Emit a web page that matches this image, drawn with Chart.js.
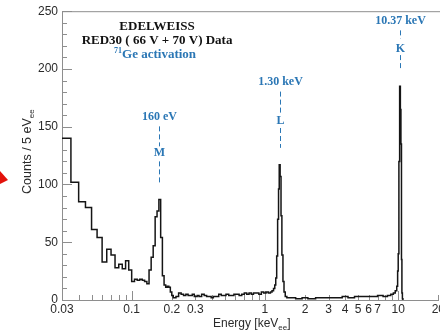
<!DOCTYPE html>
<html>
<head>
<meta charset="utf-8">
<script src="https://cdn.jsdelivr.net/npm/chart.js@4.4.1/dist/chart.umd.min.js"></script>
<style>
  html, body { margin: 0; padding: 0; background: #fff; overflow: hidden; }
  #wrap { width: 447px; height: 331px; }
</style>
</head>
<body>
<div id="wrap"><canvas id="spectrum"></canvas></div>
<script>
// 5 eV bins from 30 eV to 200 eV (lower edge = lowStart + i * lowWidth)
const lowStart = 0.030;
const lowWidth = 0.005;
const lowCounts = [140, 102, 85, 80, 61, 54, 33, 44, 39, 28, 31, 27, 34, 26,
                   16, 18, 17, 18, 17, 16, 14, 26, 37, 47, 72, 77, 87, 54,
                   21, 13, 11, 12, 11, 7];

// above 200 eV the bins are narrower than a pixel, read in groups [keV]
const hiEdges = [0.200, 0.205, 0.215, 0.225, 0.235, 0.245, 0.255, 0.265, 0.275, 0.285,
                 0.295, 0.31, 0.32, 0.335, 0.35, 0.365, 0.38, 0.395, 0.41, 0.43,
                 0.45, 0.47, 0.49, 0.51, 0.535, 0.56, 0.585, 0.61, 0.64, 0.67,
                 0.70, 0.73, 0.76, 0.79, 0.82, 0.86, 0.90, 0.94, 0.98, 1.02,
                 1.06, 1.10, 1.13, 1.16, 1.185, 1.205, 1.225, 1.245, 1.265, 1.28,
                 1.30, 1.32, 1.34, 1.365, 1.39, 1.42, 1.46, 1.55, 1.7, 1.9,
                 2.1, 2.4, 2.7, 3.0, 3.4, 3.8, 4.2, 4.7, 5.2, 5.7,
                 6.3, 7.0, 7.7, 8.3, 8.8, 9.2, 9.5, 9.75, 9.9, 10.0,
                 10.12, 10.25, 10.38, 10.48, 10.58, 10.66, 10.75];
const hiCounts = [4, 2, 3, 6, 5, 4, 5, 4, 4, 5,
                  3, 4, 3, 5, 4, 3, 3, 2, 3, 3,
                  5, 4, 4, 5, 4, 4, 5, 5, 4, 5,
                  6, 5, 6, 5, 6, 6, 5, 7, 6, 7,
                  6, 7, 8, 10, 13, 19, 38, 70, 96, 117,
                  107, 73, 39, 16, 7, 3, 2, 2, 1, 2,
                  1, 2, 2, 2, 2, 3, 2, 3, 3, 3,
                  3, 4, 3, 4, 5, 6, 8, 12, 25, 40,
                  120, 185, 165, 135, 35, 6, 1];
const hiEnd = 10.85;

// x axis labels and the Ge-71 lines
const xTickVals = [0.03, 0.1, 0.2, 0.3, 1, 2, 3, 4, 5, 6, 7, 10, 20];
const yTickVals = [0, 50, 100, 150, 200, 250];
const lineEnergies = [0.16, 1.30, 10.37];
const lineLabels = ['160 eV', '1.30 keV', '10.37 keV'];
const shellNames = ['M', 'L', 'K'];

const points = [];
lowCounts.forEach((c, i) => points.push({ x: +(lowStart + i * lowWidth).toFixed(3), y: c }));
hiEdges.forEach((e, i) => points.push({ x: e, y: hiCounts[i] }));
points.push({ x: hiEnd, y: 0 });

const axisGray = '#8e8e8e';
const inkColor = '#2a2a2a';
const blue = '#2b77b5';
const sans = '"Liberation Sans", Arial, sans-serif';
const serif = '"Liberation Serif", "Times New Roman", serif';

// draws a row of text pieces (for sub/superscripts), centred or left aligned
function drawRuns(ctx, runs, x0, baseline, align) {
    let total = 0;
    runs.forEach(r => { ctx.font = r.font; r.w = ctx.measureText(r.text).width; total += r.w; });
    let x = align === 'left' ? x0 : x0 - total / 2;
    runs.forEach(r => {
        ctx.font = r.font;
        ctx.fillText(r.text, x, baseline + (r.dy || 0));
        x += r.w;
    });
}

const framePlugin = {
    id: 'frame',
    beforeDatasetsDraw(chart) {
        const { ctx, chartArea: a, scales: { x, y } } = chart;
        ctx.save();
        ctx.strokeStyle = axisGray;
        ctx.lineWidth = 1;
        ctx.beginPath();
        ctx.moveTo(a.left, a.top + 0.5);
        ctx.lineTo(a.right + 10, a.top + 0.5);
        // inward ticks on the y axis, long every 50
        for (let v = 0; v <= 250; v += 10) {
            const py = Math.round(y.getPixelForValue(v)) + 0.5;
            ctx.moveTo(a.left, py);
            ctx.lineTo(a.left + (v % 50 === 0 ? 10 : 5), py);
        }
        // log ticks on the x axis, long at each decade
        [0.01, 0.1, 1, 10].forEach(d => {
            for (let m = 1; m <= 9; m++) {
                const v = m * d;
                if (v < 0.031 || v > 20.5) continue;
                const px = Math.round(x.getPixelForValue(v)) + 0.5;
                ctx.moveTo(px, a.bottom);
                ctx.lineTo(px, a.bottom - (m === 1 ? 9 : 5));
            }
        });
        ctx.stroke();
        ctx.restore();
    },
    afterDraw(chart) {
        const { ctx, chartArea: a, scales: { x, y } } = chart;
        ctx.save();

        // header
        ctx.fillStyle = '#111';
        const cx = x.getPixelForValue(0.155);
        drawRuns(ctx, [{ text: 'EDELWEISS', font: 'bold 13px ' + serif }], cx, y.getPixelForValue(233.7));
        drawRuns(ctx, [{ text: 'RED30 ( 66 V + 70 V) Data', font: 'bold 13px ' + serif }], cx, y.getPixelForValue(221.2));
        ctx.fillStyle = blue;
        drawRuns(ctx, [
            { text: '71', font: 'bold 8px ' + serif, dy: -5 },
            { text: 'Ge activation', font: 'bold 13px ' + serif }
        ], cx - 2, y.getPixelForValue(209.6));

        // line markers: label, dashes, shell letter, dashes
        const marks = [
            { label: 155.8, dashA: [150.3, 133], shell: 124.6, dashB: [120, 100.5] },
            { label: 186.0, dashA: [180.4, 161.8], shell: 152.3, dashB: [148.9, 131.7] },
            { label: 238.6, dashA: [233.4, 226.2], shell: 214.8, dashB: [212, 200.4] }
        ];
        ctx.strokeStyle = blue;
        ctx.lineWidth = 1;
        ctx.setLineDash([5, 3]);
        marks.forEach((m, i) => {
            const px = Math.round(x.getPixelForValue(lineEnergies[i])) + 0.5;
            ctx.fillStyle = blue;
            drawRuns(ctx, [{ text: lineLabels[i], font: 'bold 12px ' + serif }], px, y.getPixelForValue(m.label));
            drawRuns(ctx, [{ text: shellNames[i], font: 'bold 12px ' + serif }], px, y.getPixelForValue(m.shell));
            ctx.beginPath();
            ctx.moveTo(px, y.getPixelForValue(m.dashA[0]));
            ctx.lineTo(px, y.getPixelForValue(m.dashA[1]));
            ctx.moveTo(px, y.getPixelForValue(m.dashB[0]));
            ctx.lineTo(px, y.getPixelForValue(m.dashB[1]));
            ctx.stroke();
        });
        ctx.setLineDash([]);

        // axis titles with "ee" subscripts
        ctx.fillStyle = inkColor;
        drawRuns(ctx, [
            { text: 'Energy [keV', font: '12px ' + sans },
            { text: 'ee', font: '8px ' + sans, dy: 3 },
            { text: ']', font: '12px ' + sans }
        ], 213, 327, 'left');
        ctx.save();
        ctx.translate(31, (a.top + a.bottom) / 2 - 4);
        ctx.rotate(-Math.PI / 2);
        drawRuns(ctx, [
            { text: 'Counts / 5 eV', font: '12.5px ' + sans },
            { text: 'ee', font: '8px ' + sans, dy: 3 }
        ], 0, 0);
        ctx.restore();

        // red arrow tip at the left edge
        ctx.fillStyle = '#e3120b';
        ctx.beginPath();
        ctx.moveTo(0, 171);
        ctx.lineTo(8, 180);
        ctx.lineTo(0, 184);
        ctx.closePath();
        ctx.fill();
        ctx.restore();
    }
};

const ctx = document.getElementById('spectrum').getContext('2d');
new Chart(ctx, {
    type: 'line',
    data: {
        datasets: [{
            data: points,
            stepped: 'before',
            borderColor: '#151515',
            borderWidth: 1.5,
            pointRadius: 0,
            fill: false
        }]
    },
    options: {
        responsive: true,
        maintainAspectRatio: false,
        animation: false,
        layout: { padding: { top: 9, left: 0, right: 0, bottom: 0 } },
        plugins: {
            legend: { display: false },
            tooltip: { enabled: false }
        },
        scales: {
            x: {
                type: 'logarithmic',
                min: 0.03,
                max: 20,
                grid: { display: false, drawTicks: false },
                border: { display: true, color: axisGray, width: 1 },
                afterBuildTicks: (axis) => { axis.ticks = xTickVals.map(v => ({ value: v })); },
                afterFit: (axis) => { axis.height = 31; },
                ticks: {
                    autoSkip: false,
                    maxRotation: 0,
                    padding: 2,
                    color: inkColor,
                    font: { family: sans, size: 12 },
                    callback: (v) => String(v)
                }
            },
            y: {
                min: 0,
                max: 250,
                grid: { display: false, drawTicks: false },
                border: { display: true, color: axisGray, width: 1 },
                afterBuildTicks: (axis) => { axis.ticks = yTickVals.map(v => ({ value: v })); },
                afterFit: (axis) => { axis.width = 62; },
                ticks: {
                    padding: 4,
                    color: inkColor,
                    font: { family: sans, size: 12 }
                }
            }
        }
    },
    plugins: [framePlugin]
});
</script>
</body>
</html>
